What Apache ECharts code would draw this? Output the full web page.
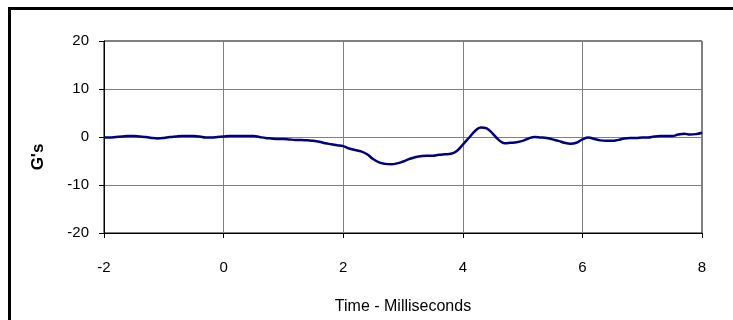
<!DOCTYPE html>
<html>
<head>
<meta charset="utf-8">
<script src="https://cdn.jsdelivr.net/npm/echarts@6/dist/echarts.min.js"></script>
<style>
  html, body { margin: 0; padding: 0; background: #fff; }
  #wrap { position: relative; width: 733px; height: 320px; overflow: hidden; }
  #frame { position: absolute; left: 8px; top: 7px; width: 800px; height: 400px;
           border-left: 3px solid #000; border-top: 3px solid #000; }
  #chart { position: absolute; left: 0; top: 0; width: 733px; height: 320px; }
</style>
</head>
<body>
<div id="wrap">
  <div id="frame"></div>
  <div id="chart"></div>
</div>
<script>
  // time in ms, acceleration in G's
  var timeMs = [
    -2.0, -1.9, -1.8, -1.7, -1.6, -1.5, -1.4, -1.3, -1.2, -1.1,
    -1.0, -0.9, -0.8, -0.7, -0.6, -0.5, -0.4, -0.3, -0.2, -0.1,
    0.0, 0.1, 0.2, 0.3, 0.4, 0.5, 0.6, 0.7, 0.8, 0.9,
    1.0, 1.1, 1.2, 1.3, 1.4, 1.5, 1.6, 1.7, 1.8, 1.9,
    2.0, 2.1, 2.2, 2.3, 2.4, 2.5, 2.6, 2.7, 2.8, 2.9,
    3.0, 3.1, 3.2, 3.3, 3.4, 3.5, 3.6, 3.7, 3.8, 3.9,
    4.0, 4.1, 4.2, 4.3, 4.4, 4.5, 4.6, 4.7, 4.8, 4.9,
    5.0, 5.1, 5.2, 5.3, 5.4, 5.5, 5.6, 5.7, 5.8, 5.9,
    6.0, 6.1, 6.2, 6.3, 6.4, 6.5, 6.6, 6.7, 6.8, 6.9,
    7.0, 7.1, 7.2, 7.3, 7.4, 7.5, 7.6, 7.7, 7.8, 7.9,
    8.0
  ];
  var gValues = [
    -0.1, -0.1, 0.0, 0.1, 0.2, 0.2, 0.1, 0.0, -0.2, -0.3,
    -0.2, 0.0, 0.1, 0.2, 0.2, 0.2, 0.1, -0.1, -0.1, 0.0,
    0.1, 0.2, 0.2, 0.2, 0.2, 0.2, 0.0, -0.2, -0.3, -0.4,
    -0.4, -0.5, -0.6, -0.6, -0.7, -0.8, -1.0, -1.3, -1.5, -1.7,
    -1.9, -2.4, -2.7, -3.0, -3.6, -4.6, -5.3, -5.6, -5.7, -5.5,
    -5.1, -4.6, -4.2, -4.0, -3.9, -3.9, -3.7, -3.6, -3.5, -2.9,
    -1.6, -0.2, 1.2, 2.0, 1.8, 0.7, -0.6, -1.3, -1.2, -1.1,
    -0.8, -0.3, 0.0, -0.1, -0.2, -0.5, -0.8, -1.2, -1.4, -1.2,
    -0.5, -0.1, -0.4, -0.7, -0.8, -0.8, -0.6, -0.3, -0.2, -0.2,
    -0.1, -0.1, 0.1, 0.2, 0.2, 0.2, 0.5, 0.7, 0.5, 0.6,
    0.9
  ];
  var xTicks = {min: -2, max: 8, step: 2};
  var yTicks = {min: -20, max: 20, step: 10};

  var font = "'Liberation Sans', Arial, sans-serif";
  var chart = echarts.init(document.getElementById('chart'));
  var points = timeMs.map(function (t, i) { return [t, gValues[i]]; });

  var option = {
    animation: false,
    grid: {
      left: 104, right: 31, top: 41, bottom: 85,
      show: true, borderColor: '#000', borderWidth: 1
    },
    xAxis: {
      type: 'value',
      min: xTicks.min, max: xTicks.max, interval: xTicks.step,
      name: 'Time - Milliseconds',
      nameLocation: 'middle',
      nameGap: 66,
      nameTextStyle: {color: '#000', fontFamily: font, fontSize: 16},
      axisLine: {onZero: false, lineStyle: {color: '#000', width: 1}},
      axisTick: {show: true, length: 5, lineStyle: {color: '#000'}},
      axisLabel: {color: '#000', fontFamily: font, fontSize: 15, margin: 27},
      splitLine: {show: true, lineStyle: {color: '#808080', width: 1}}
    },
    yAxis: {
      type: 'value',
      min: yTicks.min, max: yTicks.max, interval: yTicks.step,
      axisLine: {show: true, onZero: false, lineStyle: {color: '#000', width: 1}},
      axisTick: {show: true, length: 5, lineStyle: {color: '#000'}},
      axisLabel: {color: '#000', fontFamily: font, fontSize: 15, margin: 15},
      splitLine: {show: true, lineStyle: {color: '#808080', width: 1}}
    },
    graphic: [{
      type: 'text',
      x: 38, y: 157,
      rotation: Math.PI / 2,
      style: {
        text: "G's",
        fill: '#000',
        font: 'bold 17px ' + font,
        align: 'center',
        verticalAlign: 'middle'
      }
    }],
    series: [{
      type: 'line',
      data: points,
      smooth: 0.4,
      showSymbol: false,
      lineStyle: {color: '#000080', width: 2.5}
    }]
  };
  chart.setOption(option);
</script>
</body>
</html>
